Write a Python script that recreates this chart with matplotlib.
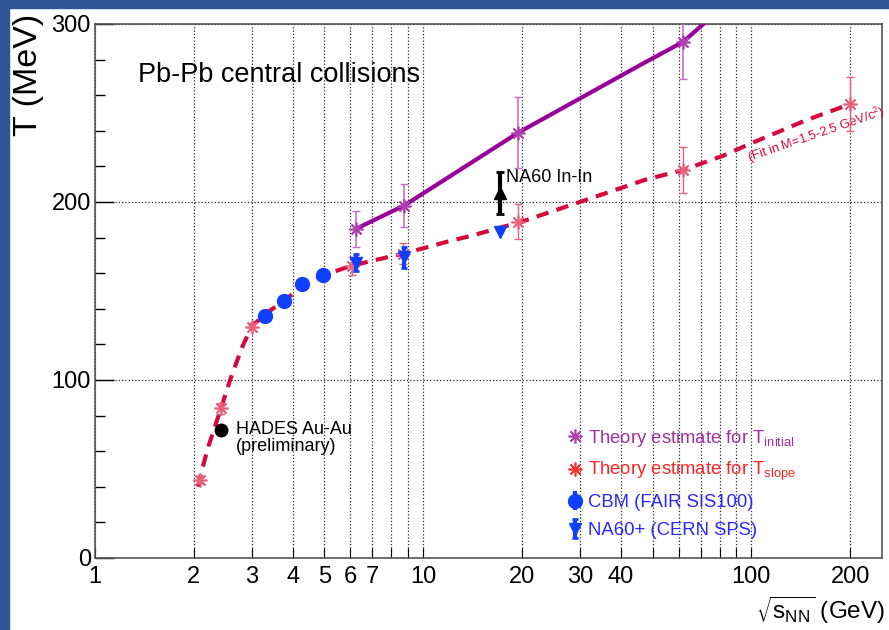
import matplotlib.pyplot as plt
from matplotlib.lines import Line2D
from matplotlib.patches import Rectangle
from matplotlib.ticker import MultipleLocator, NullLocator

plt.rcParams['font.family'] = ['Liberation Sans', 'DejaVu Sans']
plt.rcParams['mathtext.default'] = 'regular'

# theory estimate, slope temperature (points + fit)
slope_x = [2.09, 2.42, 3.0, 6.05, 8.7, 19.5, 62, 200]
slope_T = [44, 84, 130, 164, 171, 189, 218, 255]
slope_err = [2, 3, 2, 5, 6, 10, 13, 15]

fit_x = [2.06, 2.09, 2.2, 2.42, 2.58, 2.8, 3.0, 3.3, 3.6, 3.8, 4.3, 5.0, 6.0,
         7.0, 8.7, 10, 12, 14, 20, 30, 47.5, 62, 82, 100, 147, 200]
fit_T = [40, 45, 61, 84, 100, 118, 130, 137, 142, 145, 153, 159, 164,
         167, 171, 174, 178, 181, 189, 200, 212.5, 218, 226, 233, 246, 255]

# theory estimate, initial temperature
init_x = [6.25, 8.75, 19.5, 62]
init_T = [185, 198, 239, 290]
init_err = [10, 12, 20, 21]
init_line_x = [6.25, 8.75, 19.5, 45.9, 62, 71.4]
init_line_T = [185, 198, 239, 277, 290, 300]

# projected measurements
cbm_x = [3.30, 3.77, 4.28, 4.96]
cbm_T = [136, 144.5, 154, 159]
cbm_err = [2, 2, 2, 2]

na60p_x = [6.25, 8.75, 17.2]
na60p_T = [166, 169, 183]
na60p_err = [5, 6, 0]

# existing data
na60_x, na60_T, na60_err = 17.2, 205, 12
hades_x, hades_T = 2.42, 72

xticks = [1, 2, 3, 4, 5, 6, 7, 8, 9, 10, 20, 30, 40, 50, 60, 70, 80, 90, 100, 200]
xlabels_shown = [1, 2, 3, 4, 5, 6, 7, 10, 20, 30, 40, 100, 200]

red = '#D40A3C'
red_light = '#E8607C'
purple = '#990099'
purple_light = '#C870C8'
blue = '#1040FF'
star = (8, 2, 0)

fig = plt.figure(figsize=(8.89, 6.30), dpi=100)
fig.patches.append(Rectangle((0, 0), 9 / 889, 1, transform=fig.transFigure,
                             color='#2E5596', zorder=0))
fig.patches.append(Rectangle((0, 622 / 630), 1, 8 / 630, transform=fig.transFigure,
                             color='#2E5596', zorder=0))

ax = fig.add_axes([95 / 889, 72 / 630, 787 / 889, 534 / 630])
ax.set_xscale('log')
ax.set_xlim(1, 250)
ax.set_ylim(0, 300)

# fit curve and theory points
ax.plot(fit_x, fit_T, color=red, lw=3, dashes=(3, 2), zorder=3)
ax.errorbar(slope_x, slope_T, yerr=slope_err, fmt='none', ecolor=red_light,
            elinewidth=1, capsize=3, zorder=4)
ax.plot(slope_x, slope_T, ls='none', marker=star, ms=10, mec=red_light, mew=1.2, zorder=4)

ax.plot(init_line_x, init_line_T, color=purple, lw=3, zorder=3)
ax.errorbar(init_x, init_T, yerr=init_err, fmt='none', ecolor=purple_light,
            elinewidth=1.2, capsize=3, zorder=4)
ax.plot(init_x, init_T, ls='none', marker=star, ms=10, mec='#B040B0', mew=1.2, zorder=4)

cbm = ax.errorbar(cbm_x, cbm_T, yerr=cbm_err, fmt='o', color=blue, ms=10,
                  elinewidth=3, capsize=0, zorder=5)
na60p = ax.errorbar(na60p_x, na60p_T, yerr=na60p_err, fmt='v', color=blue, ms=9,
                    elinewidth=3, capsize=2, capthick=2, zorder=5)

ax.errorbar([na60_x], [na60_T], yerr=[na60_err], fmt='^', color='black', ms=9,
            elinewidth=3, capsize=3, capthick=2, zorder=5)
ax.text(17.9, 213.5, 'NA60 In-In', fontsize=13, va='center', ha='left')

ax.plot([hades_x], [hades_T], 'o', color='black', ms=9, zorder=5)
ax.text(2.69, 77, 'HADES Au-Au\n(preliminary)', fontsize=13, va='top', ha='left',
        linespacing=1.0)

ax.text(0.0546, 0.9045, 'Pb-Pb central collisions', transform=ax.transAxes,
        fontsize=19.5, va='center', ha='left')
ax.text(100, 219.5, r'(Fit in M=1.5-2.5 GeV/c$^{2}$)', rotation=19,
        rotation_mode='anchor', ha='left', va='bottom', fontsize=9.3, color=red)

# axes, ticks, grid
ax.set_xticks(xticks, [str(t) if t in xlabels_shown else '' for t in xticks])
ax.xaxis.set_minor_locator(NullLocator())
ax.set_yticks([0, 100, 200, 300])
ax.yaxis.set_minor_locator(MultipleLocator(20))
ax.tick_params(axis='x', which='major', direction='in', length=7, width=0.8,
               labelsize=17, pad=6, top=False)
ax.tick_params(axis='y', which='major', direction='in', length=14, width=1,
               labelsize=17, pad=3, right=False)
ax.tick_params(axis='y', which='minor', direction='in', length=7, width=1, right=False)
ax.grid(True, which='major', ls=':', color='0.15', lw=0.9)
for s in ax.spines.values():
    s.set_color('#555555')
    s.set_linewidth(1.2)

fig.text(28 / 889, 1 - 14 / 630, 'T (MeV)', rotation=90, ha='center', va='top',
         fontsize=24.5)
fig.text(885 / 889, 4 / 630, r'$\sqrt{s_{NN}}$ (GeV)', ha='right', va='bottom',
         fontsize=17.5)

handles = [
    Line2D([], [], ls='none', marker=star, ms=10, mec='#B040B0', mew=1.2),
    Line2D([], [], ls='none', marker=star, ms=10, mec='#FF3030', mew=1.2),
    cbm,
    na60p,
]
labels = [r'Theory estimate for T$_{initial}$', r'Theory estimate for T$_{slope}$',
          'CBM (FAIR SIS100)', 'NA60+ (CERN SPS)']
ax.legend(handles, labels, loc='upper left', bbox_to_anchor=(0.6, 0.244),
          frameon=False, fontsize=13.3, handlelength=0.8, handletextpad=0.3,
          labelspacing=0.6, borderaxespad=0, borderpad=0,
          labelcolor=['#A030A0', '#FF2222', '#2828FF', '#2828FF'])

fig.savefig('out.png', dpi=100)
